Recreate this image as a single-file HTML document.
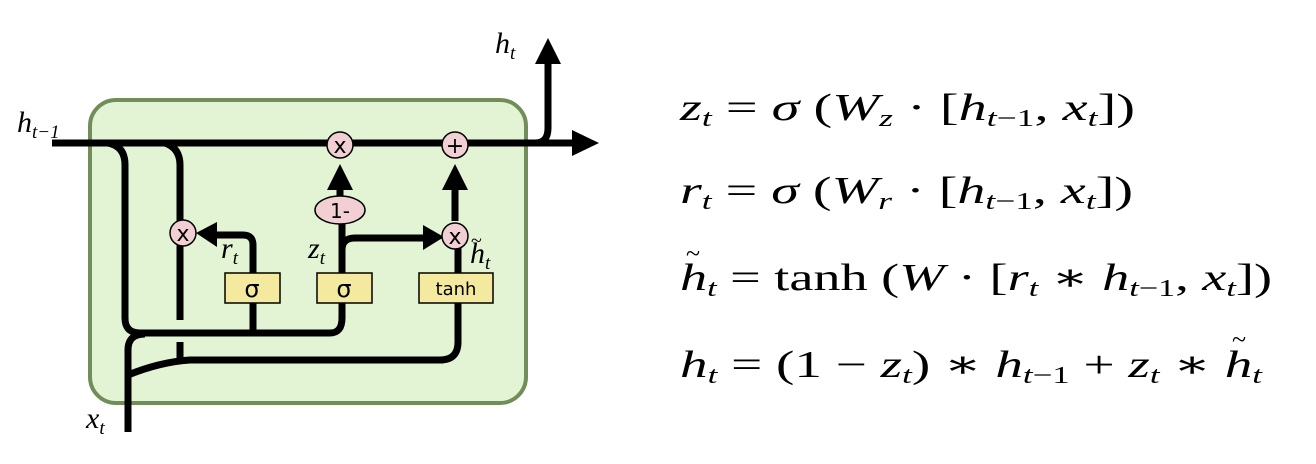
<!DOCTYPE html>
<html><head><meta charset="utf-8"><style>
html,body{margin:0;padding:0;background:#fff;width:1316px;height:464px;overflow:hidden}
svg{display:block}
.m{font-family:"Liberation Serif","DejaVu Serif",serif;font-size:38px}
.i{font-style:italic}
.s{font-size:24px}
.lbl{font-family:"Liberation Serif","DejaVu Serif",serif;font-style:italic;font-size:30px}
.g{font-family:"DejaVu Sans","Liberation Sans",sans-serif}
</style></head><body>
<svg width="1316" height="464" viewBox="0 0 1316 464" xmlns="http://www.w3.org/2000/svg">
<rect x="90" y="100" width="436" height="303" rx="26" fill="#e2f4d3" stroke="#718d5a" stroke-width="4"/>
<g fill="none" stroke="#000" stroke-width="7" stroke-linecap="butt" stroke-linejoin="round">
<path d="M52 143 H575"/>
<path d="M535 143 Q548 143 548 128 V62"/>
<path d="M108 143 Q125 146 125 165 V318 Q125 333 140 333 H330 Q342 333 342 318 V300"/>
<path d="M165 143 Q180 148 180 165 V320"/>
<path d="M180 342 V362"/>
<path d="M128 432 V350 Q128 334 145 334"/>
<path d="M128 375 Q160 362 190 360 H440 Q458 360 458 342 V303"/>
<path d="M253 333 V303"/>
<path d="M253 273 V245 Q253 235 243 235 H215"/>
<path d="M342 273 V222"/>
<path d="M342 250 Q342 238 355 238 H425"/>
<path d="M340 198 V188"/>
<path d="M458 273 V245"/>
<path d="M455 221 V188"/>
</g>
<g fill="#000">
<polygon points="572,130 599,143 572,156"/>
<polygon points="535,64 548,38 561,64"/>
<polygon points="217,222 196,233 217,247"/>
<polygon points="423,225 444,237 423,250"/>
<polygon points="327,190 340,164 353,190"/>
<polygon points="442,190 455,164 468,190"/>
</g>
<g fill="#f1cfd2" stroke="#000" stroke-width="1.5">
<circle cx="340" cy="145" r="13"/>
<circle cx="455" cy="145" r="13"/>
<circle cx="183" cy="233" r="13"/>
<circle cx="455" cy="236" r="13"/>
<ellipse cx="340" cy="210" rx="25" ry="14"/>
</g>
<g fill="#f4ea9f" stroke="#000" stroke-width="1.5">
<rect x="225" y="273" width="55" height="30"/>
<rect x="317" y="273" width="55" height="30"/>
<rect x="419" y="273" width="74" height="30"/>
</g>
<g class="g" text-anchor="middle" fill="#000">
<text x="340" y="153" font-size="22">x</text>
<text x="455" y="153" font-size="22">+</text>
<text x="183" y="241" font-size="22">x</text>
<text x="455" y="244" font-size="22">x</text>
<text x="340" y="218" font-size="20">1-</text>
<text x="252" y="297" font-size="24">σ</text>
<text x="344" y="297" font-size="24">σ</text>
<text x="456" y="295" font-size="18">tanh</text>
</g>
<g class="lbl" fill="#000">
<text x="17" y="132">h<tspan font-size="19" dy="6">t−1</tspan></text>
<text x="495" y="53">h<tspan font-size="19" dy="6">t</tspan></text>
<text x="86" y="428">x<tspan font-size="19" dy="6">t</tspan></text>
<text x="221" y="258">r<tspan font-size="19" dy="6">t</tspan></text>
<text x="308" y="258">z<tspan font-size="19" dy="6">t</tspan></text>
<text x="470" y="263">h<tspan font-size="19" dy="6">t</tspan></text>
<text x="471" y="247" font-size="20" font-style="normal">~</text>
</g>
<g class="m" fill="#000">
<text x="680" y="120" textLength="455" lengthAdjust="spacingAndGlyphs"><tspan class="i">z</tspan><tspan class="s i" dy="6">t</tspan><tspan dy="-6"> = </tspan><tspan class="i">σ</tspan> (<tspan class="i">W</tspan><tspan class="s i" dy="6">z</tspan><tspan dy="-6"> · [</tspan><tspan class="i">h</tspan><tspan class="s" dy="6"><tspan class="i">t</tspan>−1</tspan><tspan dy="-6">, </tspan><tspan class="i">x</tspan><tspan class="s i" dy="6">t</tspan><tspan dy="-6">])</tspan></text>
<text x="680" y="203" textLength="453" lengthAdjust="spacingAndGlyphs"><tspan class="i">r</tspan><tspan class="s i" dy="6">t</tspan><tspan dy="-6"> = </tspan><tspan class="i">σ</tspan> (<tspan class="i">W</tspan><tspan class="s i" dy="6">r</tspan><tspan dy="-6"> · [</tspan><tspan class="i">h</tspan><tspan class="s" dy="6"><tspan class="i">t</tspan>−1</tspan><tspan dy="-6">, </tspan><tspan class="i">x</tspan><tspan class="s i" dy="6">t</tspan><tspan dy="-6">])</tspan></text>
<text x="680" y="290" textLength="592" lengthAdjust="spacingAndGlyphs"><tspan class="i">h</tspan><tspan class="s i" dy="6">t</tspan><tspan dy="-6"> = tanh (</tspan><tspan class="i">W</tspan> · [<tspan class="i">r</tspan><tspan class="s i" dy="6">t</tspan><tspan dy="-6"> ∗ </tspan><tspan class="i">h</tspan><tspan class="s" dy="6"><tspan class="i">t</tspan>−1</tspan><tspan dy="-6">, </tspan><tspan class="i">x</tspan><tspan class="s i" dy="6">t</tspan><tspan dy="-6">])</tspan></text>
<text x="686" y="262" font-size="26">~</text>
<text x="680" y="377" textLength="582" lengthAdjust="spacingAndGlyphs"><tspan class="i">h</tspan><tspan class="s i" dy="6">t</tspan><tspan dy="-6"> = (1 − </tspan><tspan class="i">z</tspan><tspan class="s i" dy="6">t</tspan><tspan dy="-6">) ∗ </tspan><tspan class="i">h</tspan><tspan class="s" dy="6"><tspan class="i">t</tspan>−1</tspan><tspan dy="-6"> + </tspan><tspan class="i">z</tspan><tspan class="s i" dy="6">t</tspan><tspan dy="-6"> ∗ </tspan><tspan class="i">h</tspan><tspan class="s i" dy="6">t</tspan></text>
<text x="1232" y="348" font-size="26">~</text>
</g>
</svg>
</body></html>
